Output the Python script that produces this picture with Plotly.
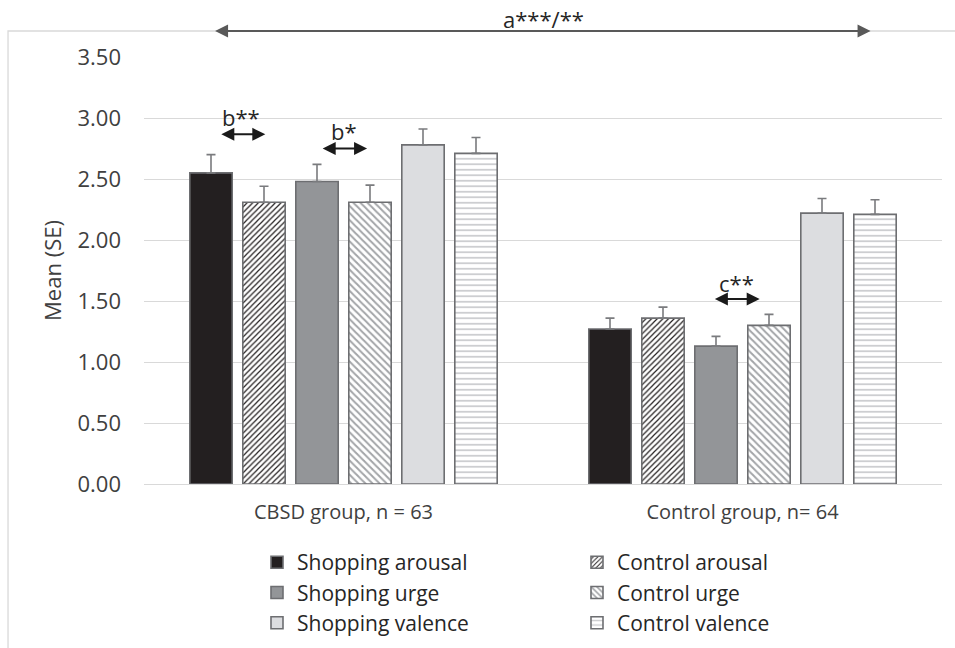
import plotly.graph_objects as go

# ---------------- data ----------------
groups = ["CBSD group, n = 63", "Control group, n= 64"]

shopping_arousal = [2.55, 1.27]
shopping_arousal_se = [0.15, 0.09]
control_arousal = [2.31, 1.36]
control_arousal_se = [0.13, 0.09]
shopping_urge = [2.48, 1.13]
shopping_urge_se = [0.14, 0.08]
control_urge = [2.31, 1.30]
control_urge_se = [0.14, 0.09]
shopping_valence = [2.78, 2.22]
shopping_valence_se = [0.13, 0.12]
control_valence = [2.71, 2.21]
control_valence_se = [0.13, 0.12]

y_ticks = [0, 0.5, 1.0, 1.5, 2.0, 2.5, 3.0, 3.5]

FONT = "Open Sans"
OUTLINE = "#6d6e71"
ERRC = "#7a7b7e"

def err(se):
    return dict(type="data", symmetric=False, array=se, arrayminus=[0] * len(se),
                color=ERRC, thickness=1.6, width=4.5)

series = [
    ("Shopping arousal", shopping_arousal, shopping_arousal_se,
     dict(color="#231f20"), "legend"),
    ("Control arousal", control_arousal, control_arousal_se,
     dict(color="white", pattern=dict(shape="/", fgcolor="#231f20", bgcolor="white",
                                      size=4, solidity=0.3, fillmode="replace")), "legend2"),
    ("Shopping urge", shopping_urge, shopping_urge_se,
     dict(color="#939598"), "legend"),
    ("Control urge", control_urge, control_urge_se,
     dict(color="white", pattern=dict(shape="\\", fgcolor="#a3a5a8", bgcolor="white",
                                      size=5, solidity=0.4, fillmode="replace")), "legend2"),
    ("Shopping valence", shopping_valence, shopping_valence_se,
     dict(color="#dcdde0"), "legend"),
    ("Control valence", control_valence, control_valence_se,
     dict(color="white", pattern=dict(shape="-", fgcolor="#c8c9cc", bgcolor="white",
                                      size=5.5, solidity=0.3, fillmode="replace")), "legend2"),
]

fig = go.Figure()
for name, vals, se, marker, leg in series:
    marker = dict(marker)
    marker["line"] = dict(color=OUTLINE, width=1.6)
    fig.add_trace(go.Bar(name=name, x=groups, y=vals, marker=marker,
                         error_y=err(se), legend=leg))

# ---------------- annotations (significance) ----------------
HEAD = dict(showarrow=True, arrowside="end+start", arrowhead=2, startarrowhead=2,
            arrowsize=1.3, startarrowsize=1.3, arrowwidth=2, standoff=0, startstandoff=0,
            text="")

def dbl_arrow(x0, x1, y, color):
    return dict(x=x1, y=y, ax=x0, ay=y, xref="x", yref="y", axref="x", ayref="y",
                arrowcolor=color, **HEAD)

def label(x, y, text, yref="y"):
    return dict(x=x, y=y, xref="x", yref=yref, text=text, showarrow=False,
                xanchor="center", yanchor="middle",
                font=dict(family=FONT, size=22, color="#262626"))

annotations = [
    # overall group effect arrow above the plot (paper y, pixel length)
    dict(x=1.321, y=1.0609, xref="x", yref="paper", axref="pixel", ayref="pixel",
         ax=-657, ay=0, arrowcolor="#595959", **HEAD),
    label(0.5, 1.0890, "a***/**", yref="paper"),
    dbl_arrow(-0.310, -0.196, 2.866, "#1a1a1a"),
    label(-0.256, 3.01, "b**"),
    dbl_arrow(-0.056, 0.059, 2.751, "#1a1a1a"),
    label(0.0, 2.895, "b*"),
    dbl_arrow(0.927, 1.043, 1.516, "#1a1a1a"),
    label(0.985, 1.65, "c**"),
]

fig.update_layout(
    width=955, height=648,
    margin=dict(l=144, r=13, t=57, b=164, autoexpand=False),
    paper_bgcolor="white", plot_bgcolor="white",
    barmode="group", bargap=0.203, bargroupgap=0.2,
    font=dict(family=FONT, color="#404040"),
    annotations=annotations,
    shapes=[dict(type="rect", xref="paper", yref="paper",
                 x0=-0.1704, x1=1.5, y0=-1.0, y1=1.0609,
                 line=dict(color="#d9d9d9", width=1.3), layer="below")],
    legend=dict(x=0.1416, xanchor="left", y=-0.136, yanchor="top",
                font=dict(family=FONT, size=21, color="#262626"),
                bgcolor="rgba(0,0,0,0)", orientation="v", traceorder="normal"),
    legend2=dict(x=0.5426, xanchor="left", y=-0.136, yanchor="top",
                 font=dict(family=FONT, size=21, color="#262626"),
                 bgcolor="rgba(0,0,0,0)", orientation="v", traceorder="normal"),
    showlegend=True,
)

fig.update_yaxes(range=[0, 3.5], tickvals=y_ticks, tickformat=".2f",
                 showgrid=True, gridcolor="#d9d9d9", gridwidth=1.3,
                 zeroline=True, zerolinecolor="#d9d9d9", zerolinewidth=1.3,
                 showline=False, ticks="", ticklabelstandoff=22,
                 tickfont=dict(family=FONT, size=22, color="#404040"),
                 title=dict(text="Mean (SE)", standoff=9,
                            font=dict(family=FONT, size=22, color="#404040")))
fig.update_xaxes(showline=False, showgrid=False, ticks="", ticklabelstandoff=14,
                 tickfont=dict(family=FONT, size=20, color="#404040"))

# remove the browser's default 8px body margin so the figure sits at the page origin
fig.write_html("out.html",
               config={"displayModeBar": False},
               post_script="document.body.style.margin='0';document.body.style.overflow='hidden';")
